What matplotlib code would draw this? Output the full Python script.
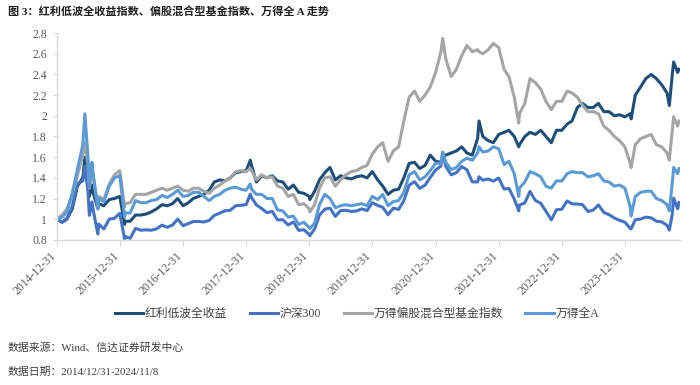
import pandas as pd
import matplotlib
matplotlib.use("Agg")
import matplotlib.pyplot as plt
import matplotlib.dates as mdates
import matplotlib.transforms as mtransforms
from matplotlib.ticker import FormatStrFormatter, MultipleLocator

FONTS = ["Liberation Serif", "Noto Sans CJK SC"]
plt.rcParams["font.family"] = FONTS
plt.rcParams["axes.unicode_minus"] = False

# month-end values, 2014-12 .. 2024-10 (normalised, 2014-12-31 = 1)
navy_monthly = [
    1.00,
    0.97, 1.00, 1.10, 1.32, 1.40, 1.38, 1.25, 1.15, 1.13, 1.19, 1.20, 1.22,
    0.98, 0.98, 1.04, 1.04, 1.05, 1.07, 1.10, 1.14, 1.13, 1.15, 1.20, 1.13,
    1.16, 1.20, 1.22, 1.24, 1.28, 1.36, 1.38, 1.37, 1.40, 1.45, 1.46, 1.47,
    1.52, 1.36, 1.42, 1.40, 1.42, 1.37, 1.36, 1.29, 1.33, 1.26, 1.25, 1.22,
    1.27, 1.38, 1.45, 1.50, 1.38, 1.42, 1.40, 1.39, 1.41, 1.42, 1.40, 1.46,
    1.38, 1.32, 1.24, 1.28, 1.29, 1.40, 1.54, 1.55, 1.49, 1.52, 1.62, 1.56,
    1.55, 1.62, 1.64, 1.66, 1.70, 1.64, 1.62, 1.78, 1.80, 1.76, 1.74, 1.82,
    1.84, 1.86, 1.80, 1.72, 1.80, 1.84, 1.82, 1.86, 1.80, 1.74, 1.86, 1.86,
    1.92, 1.95, 2.08, 2.12, 2.08, 2.08, 2.12, 2.04, 2.04, 2.00, 2.01, 1.99,
    2.02, 2.20, 2.28, 2.36, 2.40, 2.36, 2.30, 2.22, 2.40, 2.42,
]
csi300_monthly = [
    1.000,
    0.972, 1.011, 1.124, 1.344, 1.370, 1.266, 1.080, 0.953, 0.906, 1.000, 1.009, 1.056,
    0.834, 0.814, 0.911, 0.893, 0.897, 0.893, 0.907, 0.942, 0.921, 0.944, 1.001, 0.937,
    0.958, 0.977, 0.978, 0.973, 0.988, 1.037, 1.058, 1.082, 1.086, 1.130, 1.134, 1.141,
    1.210, 1.138, 1.103, 1.063, 1.076, 0.993, 0.995, 0.944, 0.973, 0.892, 0.898, 0.852,
    0.906, 1.039, 1.096, 1.107, 1.027, 1.083, 1.086, 1.075, 1.079, 1.100, 1.083, 1.159,
    1.133, 1.115, 1.043, 1.107, 1.095, 1.178, 1.329, 1.363, 1.298, 1.329, 1.404, 1.475,
    1.515, 1.510, 1.429, 1.450, 1.509, 1.478, 1.361, 1.360, 1.377, 1.389, 1.368, 1.398,
    1.292, 1.297, 1.195, 1.136, 1.158, 1.269, 1.180, 1.154, 1.077, 0.993, 1.091, 1.096,
    1.176, 1.149, 1.146, 1.140, 1.075, 1.087, 1.138, 1.065, 1.044, 1.011, 0.989, 0.971,
    0.910, 0.995, 1.001, 1.020, 1.013, 0.980, 0.974, 0.940, 1.048, 1.101,
]
fund_monthly = [
    1.00,
    1.04, 1.10, 1.24, 1.42, 1.62, 1.52, 1.40, 1.22, 1.19, 1.34, 1.43, 1.47,
    1.15, 1.16, 1.24, 1.24, 1.24, 1.26, 1.28, 1.30, 1.28, 1.30, 1.32, 1.28,
    1.27, 1.30, 1.30, 1.27, 1.25, 1.30, 1.33, 1.37, 1.40, 1.46, 1.47, 1.46,
    1.47, 1.38, 1.43, 1.40, 1.41, 1.32, 1.30, 1.22, 1.24, 1.14, 1.15, 1.10,
    1.14, 1.30, 1.40, 1.41, 1.32, 1.38, 1.43, 1.46, 1.47, 1.50, 1.52, 1.63,
    1.70, 1.74, 1.56, 1.66, 1.70, 1.95, 2.18, 2.24, 2.14, 2.20, 2.28, 2.42,
    2.62, 2.55, 2.38, 2.45, 2.58, 2.68, 2.62, 2.64, 2.60, 2.64, 2.70, 2.66,
    2.45, 2.38, 2.18, 2.02, 2.12, 2.36, 2.32, 2.26, 2.14, 2.06, 2.14, 2.14,
    2.24, 2.22, 2.18, 2.10, 2.04, 2.04, 2.02, 1.90, 1.86, 1.80, 1.76, 1.70,
    1.54, 1.72, 1.78, 1.80, 1.82, 1.72, 1.70, 1.64, 1.86, 1.90,
]
alla_monthly = [
    1.00,
    1.02, 1.07, 1.25, 1.48, 1.72, 1.60, 1.43, 1.20, 1.17, 1.32, 1.40, 1.42,
    1.06, 1.06, 1.18, 1.16, 1.16, 1.18, 1.19, 1.23, 1.21, 1.24, 1.28, 1.22,
    1.23, 1.26, 1.26, 1.22, 1.18, 1.22, 1.24, 1.28, 1.30, 1.31, 1.29, 1.28,
    1.29, 1.24, 1.24, 1.20, 1.20, 1.09, 1.08, 1.02, 1.03, 0.95, 0.97, 0.92,
    0.96, 1.14, 1.24, 1.20, 1.11, 1.13, 1.14, 1.13, 1.14, 1.15, 1.13, 1.22,
    1.19, 1.24, 1.13, 1.17, 1.18, 1.26, 1.43, 1.46, 1.38, 1.41, 1.47, 1.54,
    1.54, 1.55, 1.48, 1.50, 1.56, 1.59, 1.57, 1.64, 1.65, 1.66, 1.70, 1.68,
    1.53, 1.56, 1.44, 1.30, 1.36, 1.46, 1.44, 1.41, 1.32, 1.30, 1.37, 1.37,
    1.44, 1.46, 1.45, 1.45, 1.41, 1.42, 1.44, 1.37, 1.36, 1.32, 1.33, 1.30,
    1.12, 1.22, 1.26, 1.27, 1.27, 1.20, 1.18, 1.14, 1.35, 1.44,
]

# turning points between month ends
extra_dates = ["2015-06-12", "2015-07-08", "2015-07-23", "2015-08-26", "2016-01-28",
               "2018-01-24", "2019-01-03", "2021-02-10", "2021-09-08", "2022-04-26",
               "2024-02-05", "2024-09-13", "2024-10-08", "2024-11-08"]
navy_extra = [1.60, 1.22, 1.33, 1.10, 0.95, 1.57, 1.19, 1.60, 1.95, 1.70, 1.97, 2.10, 2.52, 2.45]
csi300_extra = [1.51, 1.037, 1.167, 0.856, 0.807, 1.242, 0.839, 1.643, 1.41, 1.08, 0.906, 0.894, 1.204, 1.161]
fund_extra = [1.74, 1.30, 1.50, 1.12, 1.12, 1.49, 1.07, 2.75, 2.62, 1.93, 1.50, 1.57, 1.99, 1.95]
alla_extra = [2.02, 1.31, 1.55, 1.10, 1.02, 1.34, 0.91, 1.65, 1.70, 1.22, 1.03, 1.08, 1.50, 1.49]

labels = ["红利低波全收益", "沪深300", "万得偏股混合型基金指数", "万得全A"]
colors = ["#1F4E79", "#4472C4", "#A5A5A5", "#5B9BD5"]
tick_years = list(range(2014, 2024))

month_ends = pd.date_range("2014-12-31", "2024-10-31", freq="ME")
idx = month_ends.append(pd.DatetimeIndex(pd.to_datetime(extra_dates)))
df = pd.DataFrame({
    labels[0]: navy_monthly + navy_extra,
    labels[1]: csi300_monthly + csi300_extra,
    labels[2]: fund_monthly + fund_extra,
    labels[3]: alla_monthly + alla_extra,
}, index=idx).sort_index()

fig = plt.figure(figsize=(7, 3.85), dpi=100)
ax = fig.add_axes([0.081, 0.377, 0.890, 0.537])

for name, c in zip(labels, colors):
    ax.plot(df.index, df[name], color=c, lw=2.2, label=name, solid_joinstyle="round")

ax.set_ylim(0.8, 2.8)
ax.yaxis.set_major_locator(MultipleLocator(0.2))
ax.yaxis.set_major_formatter(FormatStrFormatter("%g"))
ax.set_xlim(pd.Timestamp("2014-12-31"), pd.Timestamp("2024-11-12"))
ax.set_xticks([pd.Timestamp(f"{y}-12-31") for y in tick_years])
ax.xaxis.set_major_formatter(mdates.DateFormatter("%Y-%m-%d"))

for s in ["top", "right"]:
    ax.spines[s].set_visible(False)
for s in ["left", "bottom"]:
    ax.spines[s].set_color("#D9D9D9")
    ax.spines[s].set_linewidth(1.0)
ax.tick_params(axis="both", colors="#D9D9D9", labelcolor="#595959", labelsize=8.5)
ax.tick_params(axis="y", length=3, pad=4)
ax.tick_params(axis="x", length=4, pad=3)
shift = mtransforms.ScaledTranslation(-0.07, 0, fig.dpi_scale_trans)
for lab in ax.get_xticklabels():
    lab.set_rotation(45)
    lab.set_ha("right")
    lab.set_va("top")
    lab.set_rotation_mode("anchor")
    lab.set_transform(lab.get_transform() + shift)

fig.text(0.011, 0.968, "图 3：红利低波全收益指数、偏股混合型基金指数、万得全 A 走势",
         fontsize=8, fontweight="bold", color="#1F1F1F", va="center", ha="left")

fig.legend(loc="center", bbox_to_anchor=(0.51, 0.184), ncol=4, frameon=False,
           handlelength=2.4, handletextpad=0.15, columnspacing=1.9,
           prop={"family": FONTS, "size": 8.5}, labelcolor="#404040")

fig.text(0.011, 0.096, "数据来源：Wind、信达证券研发中心", fontsize=7.8,
         color="#404040", va="center", ha="left")
fig.text(0.011, 0.034, "数据日期：2014/12/31-2024/11/8", fontsize=7.8,
         color="#404040", va="center", ha="left")

fig.savefig("out.png", dpi=100)
